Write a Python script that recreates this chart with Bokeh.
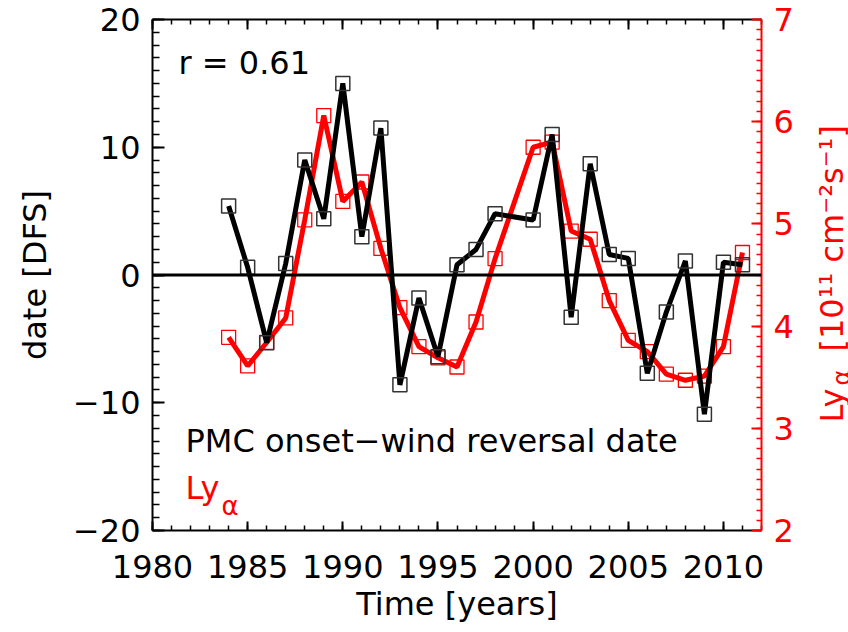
import math
from bokeh.plotting import figure
from bokeh.layouts import row
from bokeh.models import (Range1d, LinearAxis, Span, Label, SingleIntervalTicker,
                          CustomJSTickFormatter)
from bokeh.embed import file_html
from bokeh.resources import INLINE

# ---- data ----
years = [1984, 1985, 1986, 1987, 1988, 1989, 1990, 1991, 1992, 1993, 1994, 1995,
         1996, 1997, 1998, 2000, 2001, 2002, 2003, 2004, 2005, 2006, 2007, 2008,
         2009, 2010, 2011]
dfs_dates = [5.4, 0.6, -5.3, 0.9, 9.0, 4.4, 15.0, 3.0, 11.5, -8.6, -1.8, -6.4,
             0.8, 2.0, 4.8, 4.3, 11.0, -3.3, 8.7, 1.6, 1.3, -7.7, -2.9, 1.1,
             -10.9, 1.0, 0.8]
lya_flux = [3.89, 3.61, 3.84, 4.08, 5.04, 6.06, 5.22, 5.41, 4.76, 4.18, 3.80, 3.69,
            3.60, 4.04, 4.66, 5.75, 5.80, 4.93, 4.85, 4.25, 3.86, 3.75, 3.53, 3.47,
            3.51, 3.80, 4.72]
left_overrides = {-20: "\u221220", -10: "\u221210"}
corr_text = "r = 0.61"
black_label = "PMC onset\u2212wind reversal date"

FONT = "DejaVu Sans"
FS = "32px"
FL, FB = 152, 530  # main frame left / bottom in canvas pixels
P1W = 796          # width of main figure; a narrow side panel holds the right label


def sx(px):
    return px - FL


def sy(py):
    return FB - py


p = figure(width=P1W, height=632, x_range=Range1d(1980, 2012), y_range=Range1d(-20, 20),
           output_backend="svg", toolbar_location=None,
           min_border_left=152, min_border_right=P1W - 762, min_border_top=19,
           min_border_bottom=102)
p.outline_line_color = None
p.xgrid.visible = False
p.ygrid.visible = False
p.extra_y_ranges = {"ly": Range1d(2, 7)}


def style(ax, color, mt=11, nt=6):
    ax.axis_line_color = color
    ax.axis_line_width = 2
    ax.major_tick_line_color = color
    ax.minor_tick_line_color = color
    ax.major_tick_line_width = 2
    ax.minor_tick_line_width = 1.5
    ax.major_tick_in = mt
    ax.major_tick_out = 0
    ax.minor_tick_in = nt
    ax.minor_tick_out = 0
    ax.major_label_text_font = FONT
    ax.major_label_text_font_size = FS
    ax.major_label_text_color = color
    ax.axis_label_text_font = FONT
    ax.axis_label_text_font_size = FS
    ax.axis_label_text_font_style = "normal"
    ax.axis_label_text_color = color


xb = p.xaxis[0]
xb.ticker = SingleIntervalTicker(interval=5, num_minor_ticks=5)
style(xb, "black", 9, 5)
xb.major_label_standoff = 24
xb.axis_label = "Time [years]"
xb.axis_label_standoff = 4

yl = p.yaxis[0]
yl.ticker = SingleIntervalTicker(interval=10, num_minor_ticks=10)
style(yl, "black", 12, 7)
yl.major_label_standoff = 12
yl.major_label_overrides = left_overrides
yl.axis_label = "date [DFS]"
yl.axis_label_standoff = 16

xt = LinearAxis(ticker=SingleIntervalTicker(interval=5, num_minor_ticks=5),
                formatter=CustomJSTickFormatter(code="return ''"))
style(xt, "black", 10, 5)
xt.major_label_standoff = 0
xt.major_label_text_font_size = "1px"
p.add_layout(xt, "above")

yr = LinearAxis(y_range_name="ly", ticker=SingleIntervalTicker(interval=1, num_minor_ticks=10))
style(yr, "red", 10, 5)
yr.major_label_standoff = 12
p.add_layout(yr, "right")

p.add_layout(Span(location=0, dimension="width", line_color="black", line_width=3))

p.line(years, lya_flux, y_range_name="ly", line_color="red", line_width=5)
p.scatter(years, lya_flux, y_range_name="ly", marker="square", size=14,
          fill_color=None, line_color="red", line_width=1.3)
p.line(years, dfs_dates, line_color="black", line_width=5)
p.scatter(years, dfs_dates, marker="square", size=14,
          fill_color=None, line_color="#333333", line_width=1.5)


def lab(fig, text, x, y, color="black", size=FS, angle=0.0):
    fig.add_layout(Label(x=x, y=y, x_units="screen", y_units="screen", text=text,
                         text_font=FONT, text_font_size=size, text_color=color,
                         text_align="left", text_baseline="alphabetic", angle=angle))


lab(p, corr_text, sx(178), sy(62))
lab(p, black_label, sx(185), sy(440))
lab(p, "Ly", sx(185), sy(487), "red")
lab(p, "\u03b1", sx(221), sy(505), "red", "26px")

# side panel carrying the rotated right-axis title (Ly_alpha with subscript);
# the row layout aligns its frame with the main frame (top 19, bottom 530)
p2 = figure(width=848 - P1W, height=632, x_range=Range1d(0, 1), y_range=Range1d(0, 1),
            output_backend="svg", toolbar_location=None,
            x_axis_location=None, y_axis_location=None,
            min_border_left=0, min_border_right=0,
            min_border_top=19, min_border_bottom=102)
p2.outline_line_color = None
p2.xgrid.visible = False
p2.ygrid.visible = False


def qx(px):
    return px - P1W


def qy(py):
    return FB - py


A = math.pi / 2
lab(p2, "Ly", qx(831), qy(422), "red", FS, A)
lab(p2, "\u03b1", qx(841), qy(385), "red", "24px", A)
lab(p2, "[10\u00b9\u00b9 cm\u207b\u00b2s\u207b\u00b9]", qx(831), qy(351), "red", FS, A)

layout = row(p, p2)
open("out.html", "w").write(file_html(layout, INLINE))
